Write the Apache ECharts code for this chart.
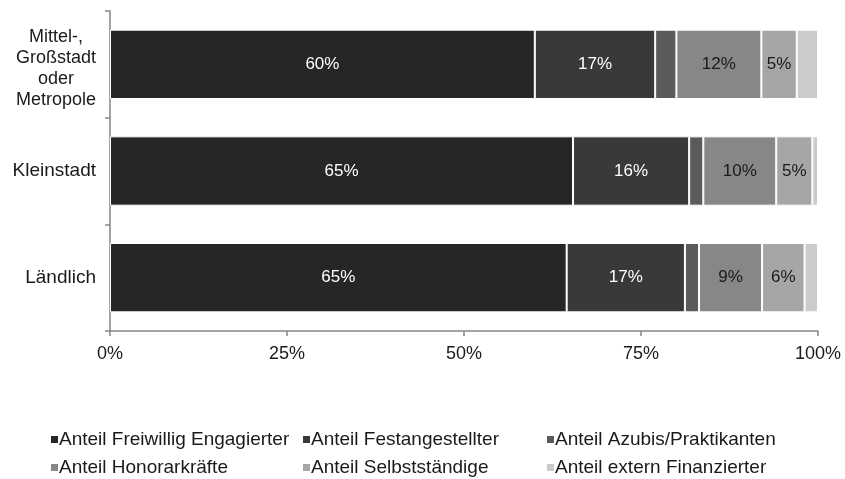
<!DOCTYPE html>
<html>
<head>
<meta charset="utf-8">
<title>Anteile nach Region</title>
<script src="https://cdn.jsdelivr.net/npm/echarts@6/dist/echarts.min.js"></script>
<style>
    html, body { margin: 0; padding: 0; background: #fff; }
    #barChart { width: 845px; height: 479px; }
</style>
</head>
<body>
<div id="barChart"></div>
<script>
// Daten
var categories = ['Mittel-,\nGroßstadt\noder\nMetropole', 'Kleinstadt', 'Ländlich'];
var seriesNames = ['Anteil Freiwillig Engagierter', 'Anteil Festangestellter', 'Anteil Azubis/Praktikanten',
    'Anteil Honorarkräfte', 'Anteil Selbstständige', 'Anteil extern Finanzierter'];
var freiwillig = [60, 65.4, 64.5];
var festangestellt = [17, 16.4, 16.7];
var azubis = [3, 2.0, 2.0];
var honorar = [12, 10.3, 8.9];
var selbststaendig = [5, 5.1, 6.0];
var extern = [3, 0.8, 1.9];
var xTickValues = [0, 25, 50, 75, 100];

var colors = ['#262626', '#393939', '#5b5b5b', '#878787', '#a6a6a6', '#cbcbcb'];
var labelColors = ['#ffffff', '#ffffff', '#ffffff', '#1a1a1a', '#1a1a1a', '#1a1a1a'];
var fontFamily = '"Liberation Sans", Arial, sans-serif';

var init_barChart = function () {
    var myChart = echarts.init(document.getElementById('barChart'));
    var allData = [freiwillig, festangestellt, azubis, honorar, selbststaendig, extern];

    var series = allData.map(function (values, i) {
        return {
            name: seriesNames[i],
            type: 'bar',
            stack: 'gesamt',
            barWidth: '65%',
            data: values,
            itemStyle: {
                color: colors[i],
                borderColor: '#ffffff',
                borderWidth: 1
            },
            label: {
                show: true,
                position: 'inside',
                color: labelColors[i],
                fontSize: 17,
                fontFamily: fontFamily,
                formatter: function (p) {
                    return p.value >= 4 ? Math.round(p.value) + '%' : '';
                }
            }
        };
    });

    // Legende: 2 Zeilen x 3 Spalten, jeder Eintrag einzeln platziert
    var legendLeft = [44, 296, 540];
    var legendTop = [425, 453];
    var legends = seriesNames.map(function (name, k) {
        return {
            left: legendLeft[k % 3],
            top: legendTop[Math.floor(k / 3)],
            itemWidth: 9,
            itemHeight: 9,
            icon: 'rect',
            selectedMode: false,
            data: [name],
            textStyle: {
                color: '#1a1a1a',
                fontSize: 19,
                fontFamily: fontFamily,
                padding: [0, 0, 0, -5]
            }
        };
    });

    var option = {
        animation: false,
        grid: {
            left: 110,
            right: 27,
            top: 11,
            bottom: 148
        },
        legend: legends,
        xAxis: {
            type: 'value',
            min: 0,
            max: 100,
            interval: 25,
            axisLine: { show: true, lineStyle: { color: '#868686', width: 1.5 } },
            axisTick: { show: true, length: 5, lineStyle: { color: '#868686', width: 1.5 } },
            splitLine: { show: false },
            axisLabel: {
                margin: 14,
                color: '#1a1a1a',
                fontSize: 18,
                fontFamily: fontFamily,
                formatter: function (v) {
                    return xTickValues.indexOf(v) >= 0 ? v + '%' : '';
                }
            }
        },
        yAxis: {
            type: 'category',
            inverse: true,
            data: categories,
            axisLine: { show: true, lineStyle: { color: '#868686', width: 1.5 } },
            axisTick: { show: true, length: 5, lineStyle: { color: '#868686', width: 1.5 } },
            axisLabel: {
                margin: 14,
                color: '#1a1a1a',
                fontSize: 19,
                fontFamily: fontFamily,
                lineHeight: 21,
                formatter: function (v) {
                    return v.indexOf('\n') >= 0 ? '{m|' + v + '}' : '{c|' + v + '}';
                },
                rich: {
                    c: {
                        fontSize: 19,
                        lineHeight: 21,
                        fontFamily: fontFamily,
                        color: '#1a1a1a'
                    },
                    m: {
                        align: 'center',
                        fontSize: 18,
                        lineHeight: 21,
                        fontFamily: fontFamily,
                        color: '#1a1a1a',
                        padding: [8, 0, 0, 0]
                    }
                }
            }
        },
        series: series
    };

    myChart.setOption(option);
}

init_barChart();
</script>
</body>
</html>
